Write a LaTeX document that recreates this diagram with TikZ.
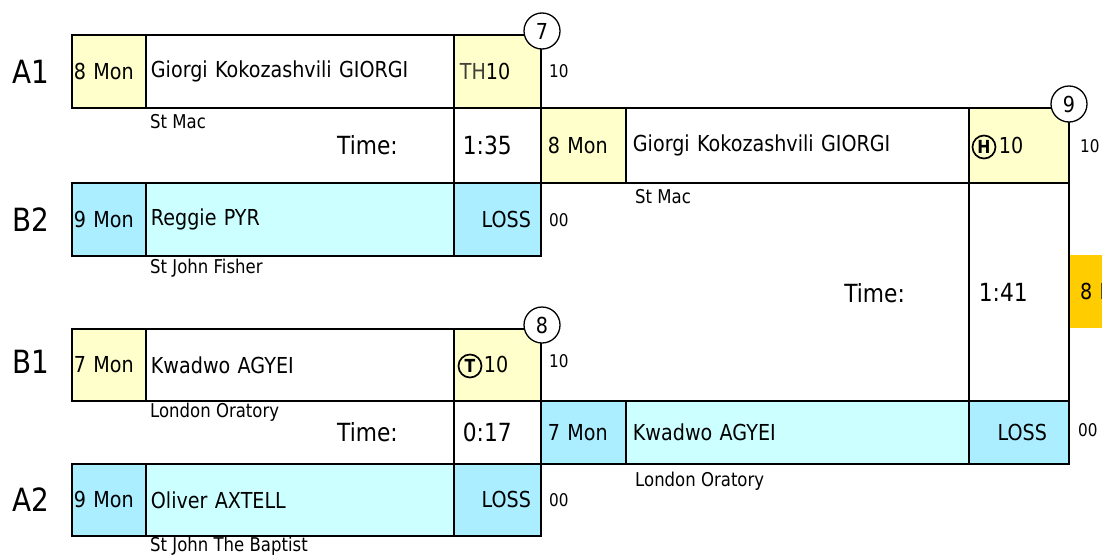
\documentclass[tikz,border=0pt]{standalone}
\usepackage{fontspec}
\setmainfont{DejaVu Sans}[FakeStretch=0.87]
\definecolor{ylw}{HTML}{FFFFCC}
\definecolor{blu}{HTML}{AAEEFF}
\definecolor{cyn}{HTML}{CCFFFF}
\definecolor{orng}{HTML}{FFCC00}
\definecolor{thgray}{HTML}{404038}
\begin{document}
\begin{tikzpicture}[x=1pt, y=-1pt]
    \tikzstyle{cell} = [rectangle, draw=black, line width=1.8pt, inner sep=0pt,
        font=\fontsize{22}{26}\selectfont]
    \tikzstyle{school} = [inner sep=0pt, font=\fontsize{19}{22}\selectfont]
    \tikzstyle{score} = [inner sep=0pt, font=\fontsize{17.5}{20}\selectfont]
    \tikzstyle{timelbl} = [inner sep=0pt, font=\fontsize{25}{29}\selectfont]
    \tikzstyle{slot} = [inner sep=0pt, font=\fontsize{32}{37}\selectfont]
    \tikzstyle{matchno} = [circle, draw=black, fill=white, line width=1.3pt,
        minimum size=36pt, inner sep=0pt, font=\fontsize{22}{25}\selectfont]
    \tikzstyle{won} = [circle, draw=black, line width=1.7pt, minimum size=23pt,
        inner sep=0pt, font=\fontsize{18}{21}\selectfont\bfseries]

    \useasboundingbox (0,0) rectangle (1102,557);

    % slot labels
    \node(aone) [slot] at (12,72) [anchor=west] {A1};
    \node(btwo) [slot] at (12,220) [anchor=west] {B2};
    \node(bone) [slot] at (12,362) [anchor=west] {B1};
    \node(atwo) [slot] at (12,500) [anchor=west] {A2};

    %%% match 7
    \node(aoneseed) [cell, fill=ylw, minimum width=74pt, minimum height=73pt,
        text width=70pt, align=left]
        at (71,34) [anchor=north west] {8 Mon};
    \node(aonename) [cell, fill=white, minimum width=308pt, minimum height=73pt,
        text width=298pt, align=left]
        at (145,34) [anchor=north west] {Giorgi Kokozashvili GIORGI};
    \node(aoneres) [cell, fill=ylw, minimum width=87pt, minimum height=73pt,
        text width=75pt, align=left]
        at (453,34) [anchor=north west] {\textcolor{thgray}{TH}10};
    \node(msevtime) [cell, fill=white, minimum width=87pt, minimum height=75pt,
        text width=69pt, align=left, font=\fontsize{25}{29}\selectfont]
        at (453,107) [anchor=north west] {1:35};
    \node(btwoseed) [cell, fill=blu, minimum width=74pt, minimum height=73pt,
        text width=70pt, align=left]
        at (71,182) [anchor=north west] {9 Mon};
    \node(btwoname) [cell, fill=cyn, minimum width=308pt, minimum height=73pt,
        text width=298pt, align=left]
        at (145,182) [anchor=north west] {Reggie PYR};
    \node(btwores) [cell, fill=blu, minimum width=87pt, minimum height=73pt,
        text width=67pt, align=right]
        at (453,182) [anchor=north west] {LOSS};

    \node(msevlbl) [timelbl] at (398,145) [anchor=east] {Time:};
    \node(aoneclub) [school] at (150,122) [anchor=west] {St Mac};
    \node(btwoclub) [school] at (150,268) [anchor=west] {St John Fisher};
    \node(aonescore) [score] at (549,71) [anchor=west] {10};
    \node(btwoscore) [score] at (549,220) [anchor=west] {00};

    %%% match 8
    \node(boneseed) [cell, fill=ylw, minimum width=74pt, minimum height=72pt,
        text width=70pt, align=left]
        at (71,328) [anchor=north west] {7 Mon};
    \node(bonename) [cell, fill=white, minimum width=308pt, minimum height=72pt,
        text width=298pt, align=left]
        at (145,328) [anchor=north west] {Kwadwo AGYEI};
    \node(boneres) [cell, fill=ylw, minimum width=87pt, minimum height=72pt,
        text width=27pt, align=left]
        at (453,328) [anchor=north west] {10};
    \node(meighttime) [cell, fill=white, minimum width=87pt, minimum height=63pt,
        text width=69pt, align=left, font=\fontsize{25}{29}\selectfont]
        at (453,400) [anchor=north west] {0:17};
    \node(atwoseed) [cell, fill=blu, minimum width=74pt, minimum height=72pt,
        text width=70pt, align=left]
        at (71,463) [anchor=north west] {9 Mon};
    \node(atwoname) [cell, fill=cyn, minimum width=308pt, minimum height=72pt,
        text width=298pt, align=left]
        at (145,463) [anchor=north west] {Oliver AXTELL};
    \node(atwores) [cell, fill=blu, minimum width=87pt, minimum height=72pt,
        text width=67pt, align=right]
        at (453,463) [anchor=north west] {LOSS};

    \node(bonewon) [won] at (470,366) {T};
    \node(meightlbl) [timelbl] at (398,432) [anchor=east] {Time:};
    \node(boneclub) [school] at (150,412) [anchor=west] {London Oratory};
    \node(atwoclub) [school] at (150,546) [anchor=west] {St John The Baptist};
    \node(bonescore) [score] at (549,361) [anchor=west] {10};
    \node(atwoscore) [score] at (549,500) [anchor=west] {00};

    %%% match 9 (and the next one, cut off)
    \node(nextseed) [rectangle, fill=orng, inner sep=0pt, minimum width=100pt,
        minimum height=73pt, text width=78pt, align=left,
        font=\fontsize{22}{26}\selectfont]
        at (1069,255) [anchor=north west] {8 Mon};

    \node(wsevseed) [cell, fill=ylw, minimum width=85pt, minimum height=75pt,
        text width=71pt, align=left]
        at (540,107) [anchor=north west] {8 Mon};
    \node(wsevname) [cell, fill=white, minimum width=343pt, minimum height=75pt,
        text width=329pt, align=left]
        at (625,107) [anchor=north west] {Giorgi Kokozashvili GIORGI};
    \node(wsevres) [cell, fill=ylw, minimum width=100pt, minimum height=75pt,
        text width=40pt, align=left]
        at (968,107) [anchor=north west] {10};
    \node(mninetime) [cell, fill=white, minimum width=100pt, minimum height=218pt,
        text width=80pt, align=left, font=\fontsize{25}{29}\selectfont]
        at (968,182) [anchor=north west] {1:41};
    \node(weightseed) [cell, fill=blu, minimum width=85pt, minimum height=63pt,
        text width=71pt, align=left]
        at (540,400) [anchor=north west] {7 Mon};
    \node(weightname) [cell, fill=cyn, minimum width=343pt, minimum height=63pt,
        text width=329pt, align=left]
        at (625,400) [anchor=north west] {Kwadwo AGYEI};
    \node(weightres) [cell, fill=blu, minimum width=100pt, minimum height=63pt,
        text width=56pt, align=right]
        at (968,400) [anchor=north west] {LOSS};

    \node(wsevwon) [won] at (984,147) {H};
    \node(mninelbl) [timelbl] at (905,293) [anchor=east] {Time:};
    \node(wsevclub) [school] at (635,197) [anchor=west] {St Mac};
    \node(weightclub) [school] at (635,481) [anchor=west] {London Oratory};
    \node(wsevscore) [score] at (1080,146) [anchor=west] {10};
    \node(weightscore) [score] at (1078,430) [anchor=west] {00};

    % match numbers
    \node(msev) [matchno] at (542,31) {7};
    \node(meight) [matchno] at (542,325) {8};
    \node(mnine) [matchno] at (1069,104) {9};
\end{tikzpicture}
\end{document}
